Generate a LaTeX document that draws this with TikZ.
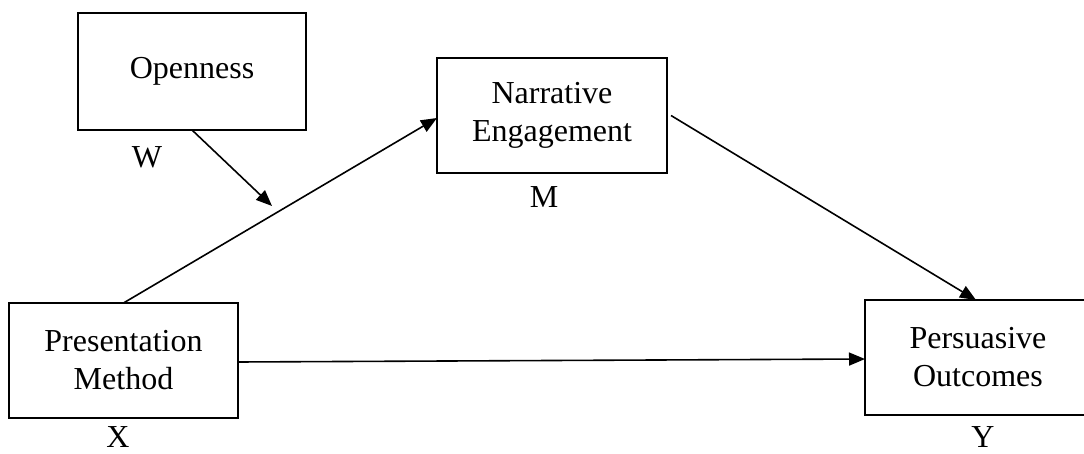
\documentclass[tikz,border=0pt]{standalone}
\usepackage{fontspec}
\setmainfont{Liberation Serif}
\usetikzlibrary{arrows.meta}
\begin{document}
\begin{tikzpicture}[x=1pt,y=-1pt,
  box/.style={draw, line width=1.8pt, inner sep=0pt, outer sep=0pt, align=center,
    font=\fontsize{32}{38}\selectfont},
  lbl/.style={inner sep=0pt, font=\fontsize{32}{38}\selectfont},
  arr/.style={line width=1.6pt, -{Triangle[length=16pt,width=13pt]}}]
\useasboundingbox (0,0) rectangle (1084,454);
\node[box, minimum width=228pt, minimum height=117pt] (op) at (192,71.5) {Openness};
\node[box, minimum width=230pt, minimum height=115pt] (ne) at (552,115.5) {Narrative\\Engagement};
\node[box, minimum width=229pt, minimum height=115pt] (pm) at (123.5,360.5) {Presentation\\Method};
\node[box, minimum width=226pt, minimum height=115pt] (po) at (978,357.5) {Persuasive\\Outcomes};
\node[lbl] (w) at (147,157) {W};
\node[lbl] (m) at (544,197) {M};
\node[lbl] (x) at (118,437) {X};
\node[lbl] (y) at (983,437) {Y};
\coordinate (mod) at (272,206);
\draw[arr] (pm.north) -- ([yshift=-2.5pt]ne.west);
\draw[arr] (op.south) -- (mod);
\draw[arr] ([xshift=4pt]ne.east) -- ([xshift=-2pt]po.north);
\draw[arr] ([yshift=-1.5pt]pm.east) -- ([yshift=-1.5pt]po.west);
\end{tikzpicture}
\end{document}
